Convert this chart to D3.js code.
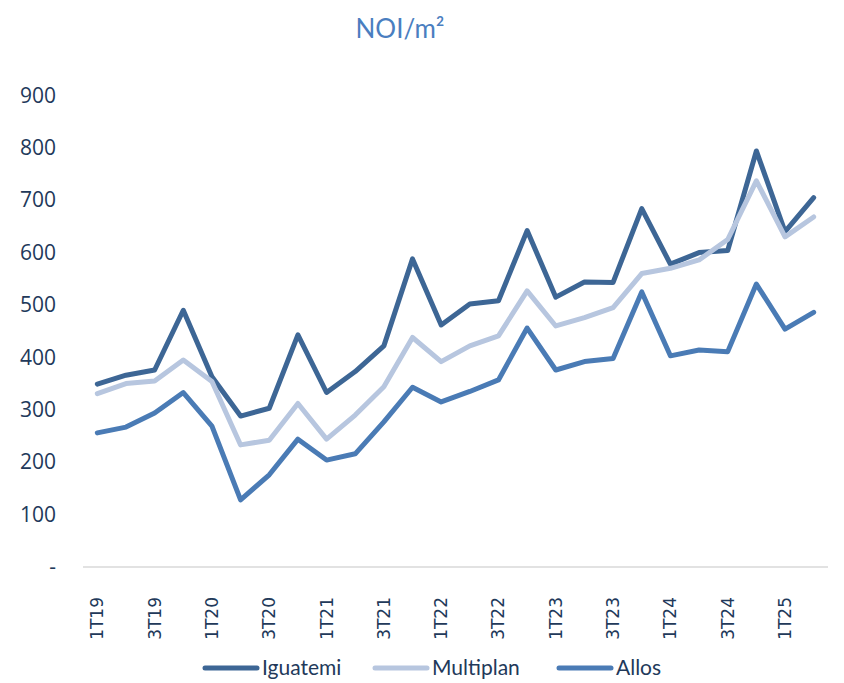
<!DOCTYPE html>
<html>
<head>
<meta charset="utf-8">
<script src="https://cdn.jsdelivr.net/npm/d3@7"></script>
<style>
  body { margin: 0; background: #fff; }
  svg { display: block; }
</style>
</head>
<body>
<svg id="chart" width="844" height="683"></svg>
<script>
// quarters 1T19 .. 2T25
const quarters = [
  '1T19','2T19','3T19','4T19','1T20','2T20','3T20','4T20',
  '1T21','2T21','3T21','4T21','1T22','2T22','3T22','4T22',
  '1T23','2T23','3T23','4T23','1T24','2T24','3T24','4T24',
  '1T25','2T25'
];
const iguatemi = [349,366,376,490,363,288,303,443,333,373,422,588,462,502,508,642,515,544,543,684,578,600,604,794,640,705];
const multiplan = [331,350,355,395,354,233,242,312,244,290,344,438,392,422,441,527,460,476,495,560,570,586,625,737,630,668];
const allos = [256,267,294,333,269,128,176,244,204,216,277,343,315,335,357,456,376,392,398,525,403,414,411,540,454,486];
const yTicks = [0,100,200,300,400,500,600,700,800,900];

const series = [
  { name: 'Iguatemi', values: iguatemi, color: '#3D6695' },
  { name: 'Multiplan', values: multiplan, color: '#B7C6DF' },
  { name: 'Allos', values: allos, color: '#4A7BB5' }
];

const svg = d3.select('#chart');
const textColor = '#22395A';

// title
svg.append('text')
  .attr('x', 400)
  .attr('y', 38)
  .attr('text-anchor', 'middle')
  .style('font-family', 'Lato, sans-serif')
  .style('font-size', '26px')
  .style('fill', '#4A7EC0')
  .text('NOI/m²');

const x = d3.scaleBand()
  .domain(quarters)
  .range([83, 828])
  .padding(0);

const y = d3.scaleLinear()
  .domain([0, 900])
  .range([567, 95.4]);

// y axis labels (no line)
const yAxis = svg.append('g')
  .attr('transform', 'translate(56,0)')
  .call(d3.axisLeft(y).tickValues(yTicks).tickSize(0).tickPadding(0)
    .tickFormat(d => d === 0 ? '-' : d));
yAxis.select('.domain').remove();
yAxis.selectAll('text')
  .style('font-family', '"Open Sans", sans-serif')
  .style('font-size', '21px')
  .style('fill', textColor);

// baseline
svg.append('line')
  .attr('x1', 83).attr('x2', 828)
  .attr('y1', y(0)).attr('y2', y(0))
  .attr('stroke', '#D9D9D9')
  .attr('stroke-width', 1.5);

// x axis labels, every other quarter
const xAxis = svg.append('g')
  .attr('transform', 'translate(0,' + y(0) + ')')
  .call(d3.axisBottom(x).tickValues(quarters.filter((q, i) => i % 2 === 0)).tickSize(0));
xAxis.select('.domain').remove();
xAxis.selectAll('text')
  .attr('transform', 'rotate(-90)')
  .attr('x', -30)
  .attr('y', 0)
  .attr('dy', '0.35em')
  .style('text-anchor', 'end')
  .style('font-family', '"DejaVu Sans", sans-serif')
  .style('font-size', '17px')
  .style('fill', textColor);

// lines
const line = d3.line()
  .x((d, i) => x(quarters[i]) + x.bandwidth() / 2)
  .y(d => y(d));

svg.selectAll('.series')
  .data(series)
  .enter().append('path')
  .attr('class', 'series')
  .attr('d', d => line(d.values))
  .attr('fill', 'none')
  .attr('stroke', d => d.color)
  .attr('stroke-width', 5)
  .attr('stroke-linejoin', 'round')
  .attr('stroke-linecap', 'round');

// legend
const legendX = [205, 375, 559];
const legend = svg.selectAll('.legend')
  .data(series)
  .enter().append('g')
  .attr('class', 'legend')
  .attr('transform', (d, i) => 'translate(' + legendX[i] + ',668)');

legend.append('line')
  .attr('x1', 0).attr('x2', 52)
  .attr('stroke', d => d.color)
  .attr('stroke-width', 5)
  .attr('stroke-linecap', 'round');

legend.append('text')
  .attr('x', 57)
  .attr('dy', '0.35em')
  .style('font-family', 'Lato, sans-serif')
  .style('font-size', '21px')
  .style('fill', textColor)
  .text(d => d.name);
</script>
</body>
</html>
